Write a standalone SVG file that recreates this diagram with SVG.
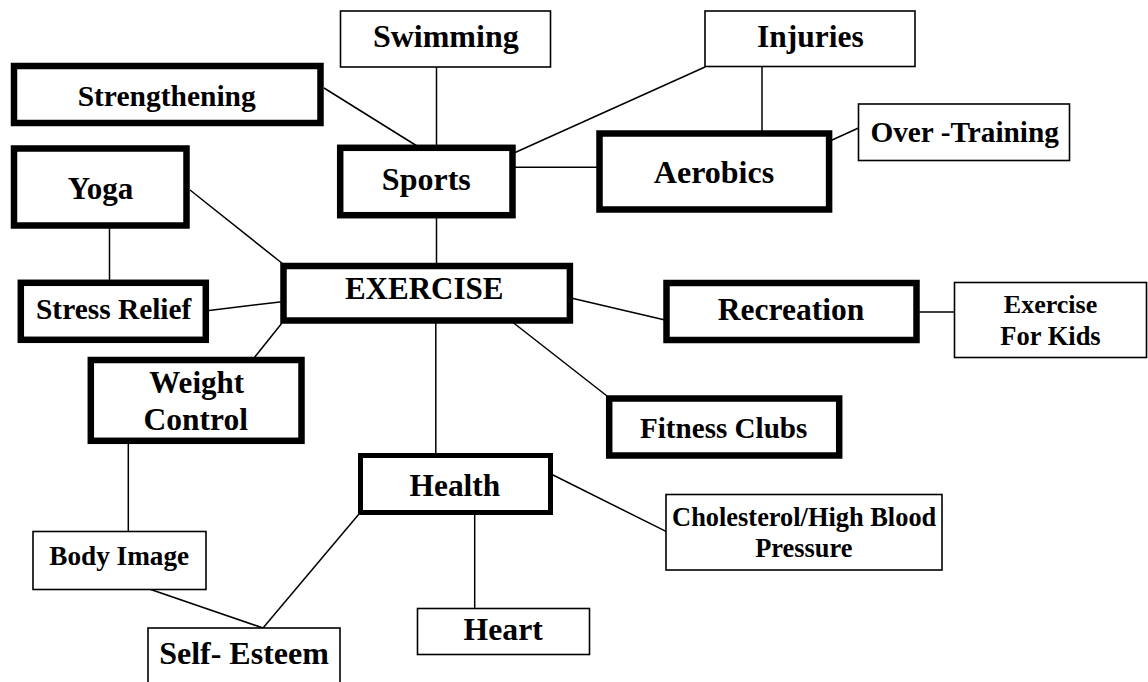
<svg xmlns="http://www.w3.org/2000/svg" width="1148" height="682" viewBox="0 0 1148 682">
<style>
  .thick { fill: #fff; stroke: #000; stroke-width: 6.5; }
  .thin { fill: #fff; stroke: #000; stroke-width: 1.6; }
  .conn line { stroke: #000; stroke-width: 1.5; }
  text { font-family: "Liberation Serif", "Times New Roman", serif; font-weight: bold; text-anchor: middle; fill: #000; }
</style>
<rect width="1148" height="682" fill="#fff"/>
<g id="connectors" class="conn">
  <line x1="436.5" y1="67" x2="436.5" y2="146"/>
  <line x1="324" y1="88" x2="417" y2="146"/>
  <line x1="514" y1="153" x2="705" y2="67"/>
  <line x1="514" y1="167.3" x2="598" y2="167.3"/>
  <line x1="762" y1="66" x2="762" y2="132"/>
  <line x1="831" y1="140.5" x2="858.5" y2="128"/>
  <line x1="190" y1="190" x2="283" y2="264"/>
  <line x1="109.5" y1="227" x2="109.5" y2="281"/>
  <line x1="436.5" y1="217" x2="436.5" y2="264"/>
  <line x1="207" y1="310.7" x2="282" y2="301.7"/>
  <line x1="571" y1="298" x2="665" y2="320"/>
  <line x1="918" y1="312" x2="954.5" y2="312"/>
  <line x1="282" y1="323" x2="254" y2="358"/>
  <line x1="512.4" y1="322" x2="607" y2="396"/>
  <line x1="435.8" y1="322" x2="435.8" y2="455"/>
  <line x1="128.3" y1="442" x2="128.3" y2="531.5"/>
  <line x1="551" y1="474" x2="666.5" y2="531.7"/>
  <line x1="474.7" y1="513" x2="474.7" y2="608.5"/>
  <line x1="359" y1="514" x2="263" y2="628"/>
  <line x1="150" y1="589.3" x2="263" y2="628"/>
</g>
<g id="swimming"><rect class="thin" x="340.5" y="11" width="210" height="56"/><text x="445.8" y="47" font-size="32">Swimming</text></g>
<g id="strengthening"><rect class="thick" x="14" y="66" width="306.5" height="57"/><text x="166.7" y="106" font-size="29.5">Strengthening</text></g>
<g id="injuries"><rect class="thin" x="705" y="11" width="210" height="55.5"/><text x="810.4" y="46.7" font-size="31.5">Injuries</text></g>
<g id="overtraining"><rect class="thin" x="858.5" y="104" width="211" height="56.5"/><text x="964.7" y="141.7" font-size="29.3">Over -Training</text></g>
<g id="yoga"><rect class="thick" x="14" y="148.5" width="172.5" height="77"/><text x="100.5" y="199" font-size="31">Yoga</text></g>
<g id="sports"><rect class="thick" x="340.2" y="147.8" width="172.3" height="67.4"/><text x="426.3" y="190" font-size="32">Sports</text></g>
<g id="aerobics"><rect class="thick" x="599.5" y="133.5" width="229.6" height="76"/><text x="714" y="183.3" font-size="32">Aerobics</text></g>
<g id="exercise"><rect class="thick" x="283.5" y="266" width="286.4" height="54.5"/><text x="424.2" y="299.3" font-size="31">EXERCISE</text></g>
<g id="stressrelief"><rect class="thick" x="20.8" y="282.8" width="185" height="57"/><text x="113.7" y="319.3" font-size="29.4">Stress Relief</text></g>
<g id="recreation"><rect class="thick" x="666.5" y="283" width="250" height="57"/><text x="791" y="320" font-size="31.5">Recreation</text></g>
<g id="exerciseforkids"><rect class="thin" x="954.5" y="282.5" width="192" height="75"/><text x="1050.5" y="313.3" font-size="26">Exercise</text><text x="1050.5" y="345" font-size="26.5">For Kids</text></g>
<g id="weightcontrol"><rect class="thick" x="90.8" y="360" width="210.7" height="80.8"/><text x="196.7" y="393.3" font-size="31">Weight</text><text x="195.8" y="430" font-size="31.5">Control</text></g>
<g id="fitnessclubs"><rect class="thick" x="609.2" y="398.5" width="230" height="57"/><text x="723.7" y="438.3" font-size="29.1">Fitness Clubs</text></g>
<g id="health"><rect class="thick" x="360.5" y="455.5" width="190" height="57" style="stroke-width:5"/><text x="454.9" y="495.7" font-size="31.4">Health</text></g>
<g id="cholesterol"><rect class="thin" x="666" y="494.5" width="276" height="75.5"/><text x="804.2" y="526" font-size="26.4">Cholesterol/High Blood</text><text x="803.8" y="556.7" font-size="26.4">Pressure</text></g>
<g id="bodyimage"><rect class="thin" x="33" y="531.5" width="173" height="58"/><text x="119.2" y="565" font-size="27.2">Body Image</text></g>
<g id="heart"><rect class="thin" x="417.5" y="608.5" width="172" height="46"/><text x="503.2" y="640" font-size="31.7">Heart</text></g>
<g id="selfesteem"><rect class="thin" x="148" y="628" width="192" height="62"/><text x="244" y="664.3" font-size="32">Self- Esteem</text></g>
</svg>
